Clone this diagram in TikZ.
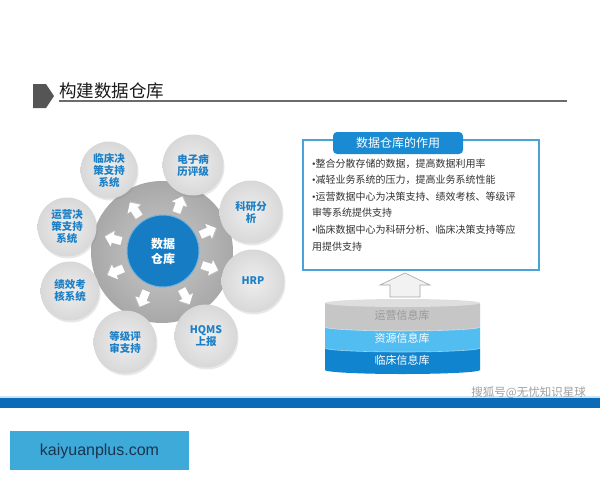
\documentclass[tikz,border=0pt]{standalone}
\usepackage{fontspec}
\setmainfont{Noto Sans CJK SC}
\newfontfamily\latsans{Liberation Sans}
\newfontfamily\latserif{Liberation Serif}
\usetikzlibrary{shadows}
\definecolor{titlemark}{HTML}{555555}
\definecolor{titletext}{HTML}{1A1A1A}
\definecolor{titleline}{HTML}{6B6B6B}
\definecolor{ringin}{HTML}{CACACA}
\definecolor{ringout}{HTML}{A8A8A8}
\definecolor{coreblue}{HTML}{167DC5}
\definecolor{satin}{HTML}{EEEEEE}
\definecolor{satout}{HTML}{D8D8D8}
\definecolor{satblue}{HTML}{1D80C6}
\definecolor{boxline}{HTML}{4AA3D3}
\definecolor{headblue}{HTML}{1A8BD2}
\definecolor{bodytext}{HTML}{333333}
\definecolor{layergray}{HTML}{C6C6C6}
\definecolor{layergraytop}{HTML}{DEDEDE}
\definecolor{layergraytext}{HTML}{999999}
\definecolor{layerlight}{HTML}{52BDF0}
\definecolor{layerblue}{HTML}{1184D0}
\definecolor{bandblue}{HTML}{0A6BB9}
\definecolor{bandlight}{HTML}{CFE3F3}
\definecolor{wmgray}{HTML}{A0A0A0}
\definecolor{sitebox}{HTML}{3EAAD9}
\definecolor{sitetext}{HTML}{1B3550}
\begin{document}
\begin{tikzpicture}[x=1pt,y=1pt,
  sat/.style={circle, inner sep=0pt, shade, inner color=satin, outer color=satout,
    drop shadow={opacity=0.18, shadow xshift=1pt, shadow yshift=-2pt},
    text=satblue, align=center, font=\fontsize{10.5}{12}\selectfont\bfseries},
  bullet/.style={anchor=west, inner sep=0pt, text=bodytext, font=\fontsize{10}{12}\selectfont},
  layertext/.style={inner sep=0pt, font=\fontsize{11}{13}\selectfont},
  blockarrow/.style={fill=white}]
\useasboundingbox (0,0) rectangle (600,-480);
\fill[white] (0,0) rectangle (600,-480);

% ---- title
\fill[titlemark] (33,-84) -- (46,-84) -- (54,-96) -- (46,-108) -- (33,-108) -- cycle;
\node[anchor=west, inner sep=0pt, text=titletext, font=\fontsize{17.5}{20}\selectfont] (title) at (59,-91) {构建数据仓库};
\draw[titleline, line width=2pt] (59,-101) -- (567,-101);

% ---- ring
\coordinate (C) at (162,-252);
\shade[inner color=ringin, outer color=ringout] (C) circle (71);
\foreach \a in {123,70,24,-18,-62,-112,-157,165}{
  \fill[gray!50, shift={(C)}, rotate=\a, shift={(50.8,-0.8)}]
    (-8,-4) -- (1,-4) -- (1,-8) -- (9,0) -- (1,8) -- (1,4) -- (-8,4) -- cycle;
  \fill[blockarrow, shift={(C)}, rotate=\a, shift={(50,0)}]
    (-8,-4) -- (1,-4) -- (1,-8) -- (9,0) -- (1,8) -- (1,4) -- (-8,4) -- cycle;
}
\node[circle, minimum size=72pt, inner sep=0pt, fill=coreblue, draw=coreblue!60!white, line width=1pt,
  text=white, align=center, font=\fontsize{12}{15}\selectfont\bfseries] (core) at (163,-251) {数据\\仓库};

% ---- satellites
\node[sat, minimum size=57pt] (s1) at (109,-170) {临床决\\策支持\\系统};
\node[sat, minimum size=61pt] (s2) at (193,-165) {电子病\\历评级};
\node[sat, minimum size=63pt] (s3) at (251,-212) {科研分\\析};
\node[sat, minimum size=63pt] (s4) at (253,-281) {HRP};
\node[sat, minimum size=63pt] (s5) at (206,-336) {HQMS\\上报};
\node[sat, minimum size=63pt] (s6) at (125,-342) {等级评\\审支持};
\node[sat, minimum size=59pt] (s7) at (70,-291) {绩效考\\核系统};
\node[sat, minimum size=59pt] (s8) at (67,-227) {运营决\\策支持\\系统};

% ---- right box
\draw[boxline, line width=1.3pt] (303,-140) rectangle (539,-270);
\node[fill=headblue, rounded corners=4pt, minimum width=130pt, minimum height=22pt, inner sep=0pt,
  text=white, font=\fontsize{12}{14}\selectfont] (head) at (398,-143) {数据仓库的作用};
\node[bullet] (b1) at (312,-164) {{\latserif •}整合分散存储的数据，提高数据利用率};
\node[bullet] (b2) at (312,-180) {{\latserif •}减轻业务系统的压力，提高业务系统性能};
\node[bullet] (b3) at (312,-197) {{\latserif •}运营数据中心为决策支持、绩效考核、等级评};
\node[bullet] (b3b) at (312,-213) {审等系统提供支持};
\node[bullet] (b4) at (312,-230) {{\latserif •}临床数据中心为科研分析、临床决策支持等应};
\node[bullet] (b4b) at (312,-247) {用提供支持};

% ---- hollow arrow
\draw[gray!70, fill=gray!10, line width=0.6pt] (380,-285) -- (405,-273) -- (430,-285) -- (420,-285)
  -- (420,-297) -- (390,-297) -- (390,-285) -- cycle;

% ---- cylinder stack
\fill[layerblue] (325,-348) -- (325,-370) arc[start angle=180, end angle=360, x radius=77.5, y radius=4] -- (480,-348) -- cycle;
\fill[layerlight] (325,-327) -- (325,-348) arc[start angle=180, end angle=360, x radius=77.5, y radius=4] -- (480,-327) -- cycle;
\fill[layergray] (325,-303) -- (325,-327) arc[start angle=180, end angle=360, x radius=77.5, y radius=4] -- (480,-303) -- cycle;
\fill[layergraytop] (402.5,-303) ellipse[x radius=77.5, y radius=4];
\draw[white, opacity=0.5, line width=0.6pt] (325,-327) arc[start angle=180, end angle=360, x radius=77.5, y radius=4];
\draw[white, opacity=0.5, line width=0.6pt] (325,-348) arc[start angle=180, end angle=360, x radius=77.5, y radius=4];
\node[layertext, text=layergraytext] (l1) at (402,-315) {运营信息库};
\node[layertext, text=white] (l2) at (402,-338) {资源信息库};
\node[layertext, text=white] (l3) at (402,-360) {临床信息库};

% ---- bottom band
\fill[bandlight] (0,-396) rectangle (600,-398.5);
\fill[bandblue] (0,-398) rectangle (600,-408);
\node[anchor=east, inner sep=0pt, text=wmgray, font=\fontsize{11.5}{13}\selectfont] (wm) at (586,-393) {搜狐号@无忧知识星球};

% ---- site box
\fill[sitebox] (10,-431) rectangle (189,-470);
\node[inner sep=0pt, text=sitetext, font=\latsans\fontsize{16}{18}\selectfont] (site) at (99.5,-451) {kaiyuanplus.com};
\end{tikzpicture}
\end{document}
